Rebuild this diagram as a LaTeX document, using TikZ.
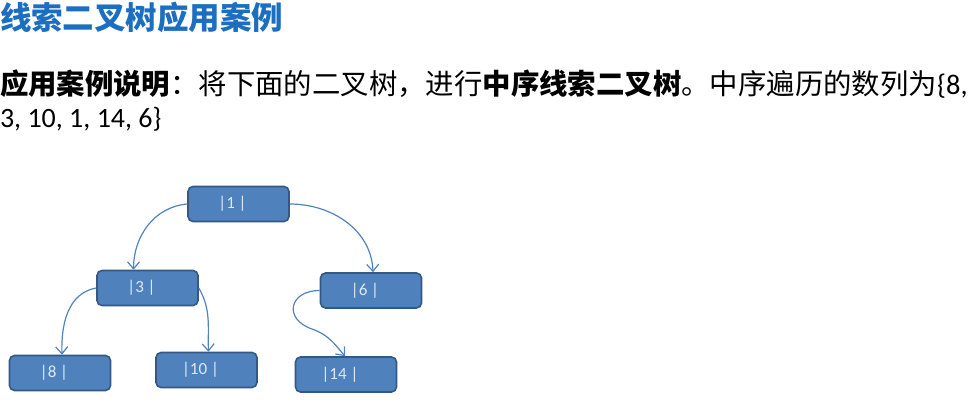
\documentclass[tikz,border=0pt]{standalone}
\usepackage{fontspec}
\usepackage{xcolor}
\usepackage{tikz}
\usetikzlibrary{arrows.meta, calc}
\setmainfont{Carlito}
\newfontfamily\cjk{Noto Sans CJK SC}
\newfontfamily\latin{Carlito}
\definecolor{mytitle}{RGB}{28,110,192}
\definecolor{myfill}{RGB}{79,129,189}
\definecolor{myedge}{RGB}{52,88,134}
\definecolor{mylink}{RGB}{82,130,190}
\definecolor{mylabel}{RGB}{222,232,246}
\tikzset{
  treenode/.style={rectangle, draw=myedge, fill=myfill, line width=1.6pt,
    rounded corners=5pt, minimum width=101pt, minimum height=35pt,
    inner sep=0pt, font=\fontsize{17}{19}\selectfont\latin, text=mylabel,
    execute at end node=\kern12pt},
  link/.style={-{Straight Barb[length=7pt,width=12pt]}, line width=1.2pt, color=mylink},
  txt/.style={anchor=base west, inner sep=0pt, outer sep=0pt}
}

\begin{document}
\begin{tikzpicture}[x=1pt, y=1pt]
  \useasboundingbox (0,0) rectangle (970,-409);

  % Heading and description
  \node[txt, text=mytitle, font=\fontsize{31.5}{34}\selectfont\cjk\bfseries] (title) at (0,-30) {线索二叉树应用案例};
  \node[txt, font=\fontsize{28.4}{32}\selectfont] (desc) at (0,-95)
    {{\cjk\bfseries 应用案例说明}{\cjk ：将下面的二叉树，进行}{\cjk\bfseries 中序线索二叉树}{\cjk 。中序遍历的数列为}{\latin\{8,}};
  \node[txt, font=\fontsize{28}{32}\selectfont\latin] (desc2) at (0,-128) {3, 10, 1, 14, 6\}};

  % Tree nodes
  \node[treenode] (n1) at (238.5,-204) {|1 |};
  \node[treenode] (n3) at (147.5,-288) {|3 |};
  \node[treenode] (n6) at (371,-290.5) {|6 |};
  \node[treenode] (n8) at (60,-373) {|8 |};
  \node[treenode] (n10) at (206.5,-370) {|10 |};
  \node[treenode] (n14) at (346,-374.5) {|14 |};

  % Links
  \coordinate (bend) at (312,-329);
  \draw[link] (n1.west) to[out=185, in=90] ([xshift=-14pt]n3.north);
  \draw[link] (n1.east) to[out=0, in=92] ([xshift=2pt]n6.north);
  \draw[link] (n3.west) to[out=190, in=92] ([xshift=2pt]n8.north);
  \draw[link] (n3.east) to[out=-60, in=92] ([xshift=2pt]n10.north);
  \draw[link] (n6.west) to[out=180, in=161, looseness=2] (bend)
    to[out=-19, in=130] ([xshift=-1pt]n14.north);
\end{tikzpicture}
\end{document}
